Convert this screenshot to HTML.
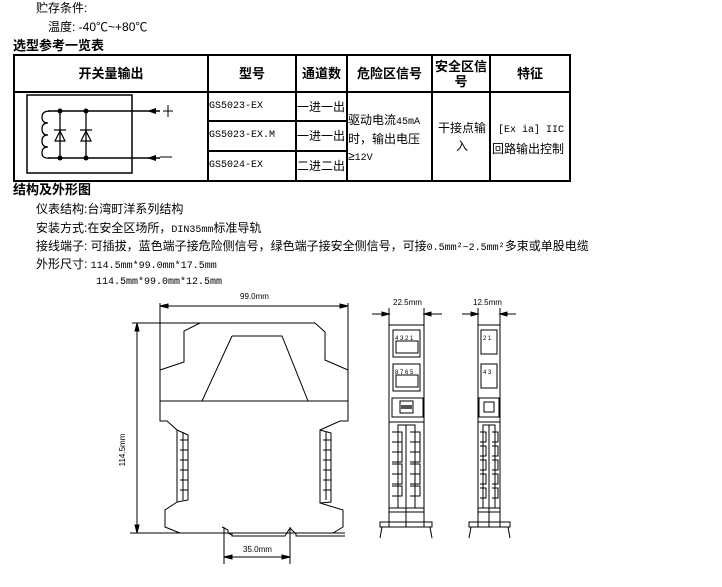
<!DOCTYPE html>
<html><head><meta charset="utf-8"><style>
body{margin:0;width:722px;height:587px;background:#fff;position:relative;overflow:hidden;font-family:"Liberation Sans","Noto Sans CJK SC",sans-serif;font-size:12px;color:#000}
.t{position:absolute;white-space:nowrap;line-height:14px}
.b{font-weight:bold;font-size:13px}
.m{font-family:"Liberation Mono","Noto Sans CJK SC",monospace;font-size:10px}
.c{position:absolute;text-align:center;display:flex;align-items:center;justify-content:center;line-height:15px}
</style></head><body>
<div class="t" style="left:36px;top:1px">贮存条件:</div>
<div class="t" style="left:48px;top:20px">温度: -40℃~+80℃</div>
<div class="t b" style="left:13px;top:39px">选型参考一览表</div>

<svg style="position:absolute;left:0;top:0" width="722" height="587">
<g stroke="#000" fill="none">
<rect x="14" y="55" width="556" height="126" stroke-width="2"/>
<line x1="13" y1="92" x2="571" y2="92" stroke-width="2"/>
<line x1="208" y1="55" x2="208" y2="181" stroke-width="2"/>
<line x1="296" y1="55" x2="296" y2="181" stroke-width="2"/>
<line x1="347" y1="55" x2="347" y2="181" stroke-width="2"/>
<line x1="432" y1="55" x2="432" y2="181" stroke-width="2"/>
<line x1="490" y1="55" x2="490" y2="181" stroke-width="2"/>
<line x1="208" y1="121" x2="347" y2="121" stroke-width="2"/>
<line x1="208" y1="151" x2="347" y2="151" stroke-width="2"/>
<rect x="27" y="95" width="105" height="78" stroke-width="1.5"/>
<line x1="48" y1="111" x2="160" y2="111" stroke-width="1.5"/>
<line x1="48" y1="158" x2="160" y2="158" stroke-width="1.5"/>
<path d="M50 111 q-8 0 -8 6 q0 6 6 6 q-6 0 -6 6 q0 6 6 6 q-6 0 -6 6 q0 6 6 6 q-6 0 -6 6 q0 6 8 5" stroke-width="1.3"/>
<line x1="60" y1="111" x2="60" y2="158" stroke-width="1.3"/>
<line x1="86" y1="111" x2="86" y2="158" stroke-width="1.3"/>
<path d="M54 130 h12 M55 141 l5 -10 l5 10 z M80 130 h12 M81 141 l5 -10 l5 10 z" stroke-width="1.2"/>
<path d="M168 105 v12 M163 111 h10 M160 157 h12" stroke-width="1"/>
</g>
<g fill="#000"><circle cx="60" cy="111" r="2.5"/><circle cx="86" cy="111" r="2.5"/><circle cx="60" cy="158" r="2.5"/><circle cx="86" cy="158" r="2.5"/>
<path d="M147 111 l9 -3 v6 z M147 158 l9 -3 v6 z"/></g>

<g stroke="#000" fill="none" stroke-width="1">
<line x1="160" y1="306" x2="348" y2="306"/><path d="M160 306 l8 -2 v4 z M348 306 l-8 -2 v4 z" fill="#000"/>
<line x1="160" y1="303" x2="160" y2="370"/><line x1="348" y1="303" x2="348" y2="421"/>
<line x1="137" y1="323" x2="137" y2="533"/><path d="M137 323 l-2 8 h4 z M137 533 l-2 -8 h4 z" fill="#000"/>
<line x1="132" y1="323" x2="200" y2="323"/><line x1="130" y1="533" x2="180" y2="533"/>
<path d="M200 323 H315 L325 332 V360 L348 370"/>
<path d="M200 323 L184 331 V362 L160 370 V421 H167 L177 430 V502 L165 510 V527 L180 533"/>
<path d="M232 336 H282 L308 401 M232 336 L202 401"/>
<line x1="160" y1="401" x2="348" y2="401"/>
<path d="M348 421 H340 L320 430 V503 L343 510 V527 L333 533"/>
<path d="M177 430 L188 435 V500 L177 502 M320 430 L331 433 V502 L320 503"/>
<path d="M180 440h8M180 450h8M180 460h8M180 470h8M180 480h8M180 490h8M183 432V500M323 440h8M323 450h8M323 460h8M323 470h8M323 480h8M323 490h8M326 432V500"/>
<path d="M222 527 L228 530 V533 L232 535 V536 H285 L290 528 L296 534 V536 H345 M232 536 V533 M180 533 H345"/>
<line x1="224" y1="527" x2="224" y2="564"/><line x1="290" y1="527" x2="290" y2="564"/>
<line x1="224" y1="557" x2="290" y2="557"/><path d="M224 557 l8 -2 v4 z M290 557 l-8 -2 v4 z" fill="#000"/>
</g>
<g font-family="Liberation Sans" font-size="8" fill="#000">
<text x="240" y="299">99.0mm</text>
<text x="243" y="552">35.0mm</text>
<text x="125" y="450" transform="rotate(-90 125 450)" text-anchor="middle">114.5mm</text>
<text x="393" y="305">22.5mm</text>
<text x="473" y="305">12.5mm</text>
</g>
<g stroke="#000" fill="none" stroke-width="1">
<path d="M389 308 V325 M424 308 V325 M372 314 H389 M424 314 H442 M478 308 V325 M500 308 V325 M462 314 H478 M500 314 H516"/>
<path d="M389 314 l-7 -2 v4 z M424 314 l7 -2 v4 z M478 314 l-7 -2 v4 z M500 314 l7 -2 v4 z" fill="#000"/>
<rect x="389" y="325" width="35" height="202"/>
<rect x="393" y="330" width="27" height="27"/><rect x="393" y="364" width="27" height="27"/>
<rect x="392" y="398" width="31" height="19"/><rect x="400" y="401" width="13" height="12"/>
<path d="M389 422 H424 M406 425 V527 M398 425 H415 V508 H398 Z M389 508 H424 M389 512 H424"/>
<path d="M392 432h10v10h-10M392 442h10v10h-10M392 452h10v10h-10M392 464h10v10h-10M392 474h10v10h-10M392 486h10v10h-10M410 432h10v10h-10M410 442h10v10h-10M410 452h10v10h-10M410 464h10v10h-10M410 474h10v10h-10M410 486h10v10h-10"/>
<path d="M380 522 H432 V527 H380 Z M382 527 L380 538 M430 527 L432 538"/>
<rect x="478" y="325" width="22" height="202"/>
<rect x="481" y="330" width="16" height="24"/><rect x="481" y="364" width="16" height="24"/>
<rect x="479" y="398" width="20" height="19"/><rect x="484" y="402" width="10" height="10"/>
<path d="M478 422 H500 M489 425 V527 M483 425 H495 V508 H483 Z M478 508 H500 M478 512 H500"/>
<path d="M480 432h6v10h-6M480 446h6v10h-6M480 460h6v10h-6M480 474h6v10h-6M480 488h6v10h-6M492 432h6v10h-6M492 446h6v10h-6M492 460h6v10h-6M492 474h6v10h-6M492 488h6v10h-6"/>
<path d="M469 522 H510 V527 H469 Z M471 527 L469 538 M508 527 L510 538"/>
</g>
<g font-family="Liberation Sans" font-size="6" fill="#000">
<text x="395" y="340">4 3 2 1</text><text x="395" y="374">8 7 6 5</text>
<text x="483" y="340">2 1</text><text x="483" y="374">4 3</text></g>
<g fill="#000"><rect x="396" y="341" width="22" height="12" fill="none" stroke="#000"/><rect x="396" y="375" width="22" height="12" fill="none" stroke="#000"/><rect x="401" y="405" width="11" height="4" fill="#555"/></g>
</svg>

<div class="c b" style="left:14px;top:55px;width:194px;height:37px">开关量输出</div>
<div class="c b" style="left:208px;top:55px;width:88px;height:37px">型号</div>
<div class="c b" style="left:296px;top:55px;width:51px;height:37px">通道数</div>
<div class="c b" style="left:347px;top:55px;width:85px;height:37px">危险区信号</div>
<div class="c b" style="left:432px;top:55px;width:58px;height:37px">安全区信号</div>
<div class="c b" style="left:490px;top:55px;width:80px;height:37px">特征</div>
<div class="t m" style="left:209px;top:100px">GS5023-EX</div>
<div class="t m" style="left:209px;top:129px">GS5023-EX.M</div>
<div class="t m" style="left:209px;top:159px">GS5024-EX</div>
<div class="t" style="left:297px;top:100px">一进一出</div>
<div class="t" style="left:297px;top:129px">一进一出</div>
<div class="t" style="left:297px;top:159px">二进二出</div>
<div class="t" style="left:348px;top:112px;line-height:17px">驱动电流<span class="m">45mA</span><br>时，输出电压<br>≥<span class="m">12V</span></div>
<div class="c" style="left:434px;top:92px;width:56px;height:89px;line-height:18px">干接点输入</div>
<div class="t" style="left:492px;top:119px;line-height:18px"><span class="m">&nbsp;[Ex ia] IIC</span><br>回路输出控制</div>

<div class="t b" style="left:13px;top:183px">结构及外形图</div>
<div class="t" style="left:36px;top:202px">仪表结构:台湾町洋系列结构</div>
<div class="t" style="left:36px;top:221px">安装方式:在安全区场所，<span class="m">DIN35mm</span>标准导轨</div>
<div class="t" style="left:36px;top:239px">接线端子: 可插拔，蓝色端子接危险侧信号，绿色端子接安全侧信号，可接<span class="m">0.5mm²~2.5mm²</span>多束或单股电缆</div>
<div class="t" style="left:36px;top:257px">外形尺寸: <span class="m">114.5mm*99.0mm*17.5mm</span></div>
<div class="t m" style="left:96px;top:276px">114.5mm*99.0mm*12.5mm</div>
</body></html>
